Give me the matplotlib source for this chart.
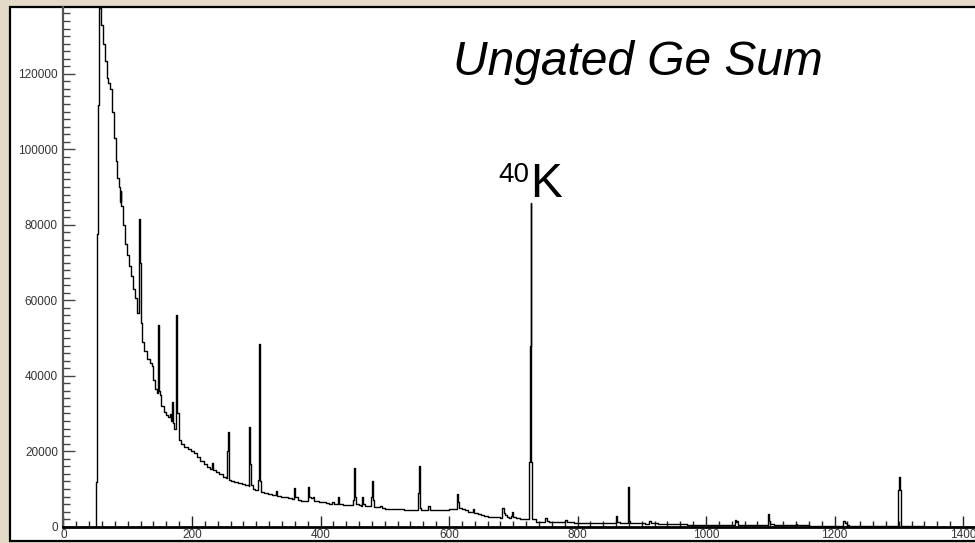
import matplotlib
matplotlib.use("Agg")
from matplotlib import pyplot as plt
from matplotlib.patches import Rectangle

# spectrum: bin start energy and counts (step plot)
energy = [0, 50, 52.5, 54, 55.5, 58.5, 61, 64, 67, 70, 72, 75, 78, 81, 83, 86, 88, 89, 90, 93,
          96, 99, 102, 105, 108, 111, 114, 117, 118.5, 120, 122, 126, 130, 134, 137, 140, 143, 146, 147, 148.5,
          150, 152, 156, 160, 163, 165, 167, 168.5, 170, 172, 175, 176, 177, 179, 183, 188, 193, 198, 203, 208,
          213, 218, 223, 228, 231, 232.5, 237, 242, 248, 253, 255, 256, 257.5, 260, 266, 272, 278, 283, 288, 289,
          290, 291.5, 295, 298, 303, 304, 305.5, 307, 312, 318, 324, 329, 331, 333, 338, 344, 350, 356, 358, 360,
          365, 370, 376, 380, 382, 385, 388, 390, 393, 398, 403, 408, 413, 418, 421, 425, 427, 429, 435, 440,
          446, 451, 452, 453.5, 455, 460, 463, 464, 466, 470, 476, 479, 480.5, 482, 484, 490, 493, 495, 500, 510,
          520, 530, 540, 550, 552, 553, 554.5, 556, 560, 566, 568, 570, 575, 585, 595, 600, 605, 610, 613, 614,
          616, 620, 625, 630, 635, 637, 639, 645, 650, 655, 660, 665, 670, 675, 680, 683, 685, 687, 690, 693,
          696, 698, 700, 705, 710, 715, 720, 724.5, 725.5, 727, 728, 729, 736, 745, 750, 752, 756, 765,
          775, 781, 784, 790, 795, 800, 805, 815, 820, 830, 840, 850, 858, 860, 862, 866, 876, 878, 879, 880,
          882, 890, 900, 905, 912, 914, 920, 925, 935, 945, 950, 960, 970, 980, 990, 1000, 1010, 1020, 1030, 1040,
          1045, 1046.5, 1048, 1050, 1060, 1070, 1080, 1090, 1096, 1097.5, 1099, 1105, 1120, 1135, 1140, 1142, 1160, 1180,
          1200, 1213, 1217, 1219, 1222, 1225, 1240, 1260, 1280, 1299, 1301, 1302, 1303, 1304, 1306, 1320, 1340, 1360,
          1380, 1400, 1420]
counts = [0, 11900, 77500, 111700, 137500, 133000, 128000, 123500, 119000, 117500, 116000, 110000, 103000, 97000, 92500, 90000, 86000, 89000, 85000, 80000,
          75000, 72000, 69000, 66500, 63000, 60500, 56500, 81500, 70000, 54000, 49000, 46500, 44500, 43500, 42500, 39000, 36500, 35500, 53500, 36000,
          35000, 32000, 30500, 29500, 29000, 29800, 28000, 33000, 27500, 25800, 56000, 51500, 30000, 23000, 22000, 21000, 20500, 20000, 19500, 18500,
          17500, 16500, 15800, 15300, 17000, 15000, 14500, 14000, 13200, 12800, 20000, 25000, 12500, 12000, 11800, 11500, 11200, 11000, 10700, 26300,
          16500, 11000, 10100, 9800, 12500, 48500, 12000, 9200, 8900, 8600, 8400, 8300, 9500, 8200, 8000, 7800, 7600, 7400, 10300, 7800,
          7100, 6900, 6800, 10600, 8000, 7500, 8000, 6900, 6700, 6600, 6500, 6300, 6100, 6500, 6000, 5900, 7800, 6000, 5800, 5750,
          5700, 7000, 15500, 8000, 6000, 5700, 5600, 7800, 6000, 5600, 5500, 8000, 12000, 7000, 5300, 5200, 5500, 5000, 4800, 4700,
          4600, 4500, 4400, 4400, 9000, 16100, 5000, 4400, 4300, 4300, 5600, 4500, 4400, 4400, 4500, 4600, 4700, 4800, 8700, 6500,
          5000, 4600, 4300, 4000, 3800, 4600, 3600, 3400, 3100, 2900, 2700, 2600, 2600, 2500, 2400, 4900, 3500, 3000, 2600, 2400,
          2800, 3800, 2500, 2200, 2100, 2000, 1950, 17200, 48000, 85700, 17200, 2000, 1300, 1200, 2300, 1500, 1300, 1200,
          1200, 1800, 1300, 1200, 1000, 1100, 900, 1000, 900, 900, 950, 900, 1000, 2800, 1200, 900, 900, 9500, 10400, 1500,
          900, 900, 1000, 800, 1500, 900, 900, 700, 600, 600, 700, 600, 500, 500, 500, 450, 400, 400, 400, 450,
          1900, 1200, 1500, 500, 400, 400, 400, 400, 3300, 1500, 600, 400, 350, 350, 700, 350, 300, 300,
          300, 1500, 900, 500, 200, 100, 100, 100, 100, 9700, 13300, 9700, 6600, 300, 100, 100, 50, 50,
          50, 50, 50]

k40_energy = 727
x_major = [0, 200, 400, 600, 800, 1000, 1200, 1400]
y_major = [0, 20000, 40000, 60000, 80000, 100000, 120000]

fig = plt.figure(figsize=(9.75, 5.43), dpi=100)
fig.patch.set_facecolor("#e4dac8")

# white pad with black border
W, H = 975.0, 543.0
pad = Rectangle((10 / W, 2 / H), 1.2, (541 - 7) / H, transform=fig.transFigure,
                facecolor="white", edgecolor="black", linewidth=1.6, zorder=0)
fig.patches.append(pad)

ax = fig.add_axes([63.5 / W, (H - 526.7) / H, (W - 63.5) / W, (526.7 - 7) / H])
ax.set_zorder(2)
ax.patch.set_alpha(0)

ax.step(energy, counts, where="post", color="black", linewidth=1.0, zorder=3)

ax.set_xlim(0, 1418.6)
ax.set_ylim(0, 137700)

for s in ["top", "right"]:
    ax.spines[s].set_visible(False)
ax.spines["left"].set_color("#555555")
ax.spines["left"].set_linewidth(1.6)
ax.spines["bottom"].set_color("black")
ax.spines["bottom"].set_linewidth(2.0)

ax.set_xticks(x_major)
ax.set_xticks(range(0, 1420, 20), minor=True)
ax.set_yticks(y_major)
ax.set_yticks(range(0, 137000, 2000), minor=True)
ax.set_xticklabels([str(v) for v in x_major])
ax.set_yticklabels([str(v) for v in y_major])

ax.tick_params(axis="x", which="major", direction="in", length=7.7, width=1, color="#222222", pad=2)
ax.tick_params(axis="x", which="minor", direction="in", length=4.3, width=1, color="#222222")
ax.tick_params(axis="y", which="major", direction="in", length=8.4, width=1, color="#444444", pad=4)
ax.tick_params(axis="y", which="minor", direction="in", length=5.3, width=1, color="#444444")
for lab in ax.get_xticklabels() + ax.get_yticklabels():
    lab.set_fontfamily("Liberation Sans")
    lab.set_fontsize(8.5)
    lab.set_color("#333333")

# title and peak label
fig.text(453 / W, (H - 75) / H, "Ungated Ge Sum", fontsize=34.5, style="italic",
         family="Liberation Sans", ha="left", va="baseline")
ax.text(k40_energy - 1, 87340, "K", fontsize=34.5, family="Liberation Sans",
        ha="left", va="baseline")
ax.text(k40_energy - 1.5, 91400, "40", fontsize=20, family="Liberation Sans",
        ha="right", va="baseline")

fig.savefig("out.png", dpi=100)
